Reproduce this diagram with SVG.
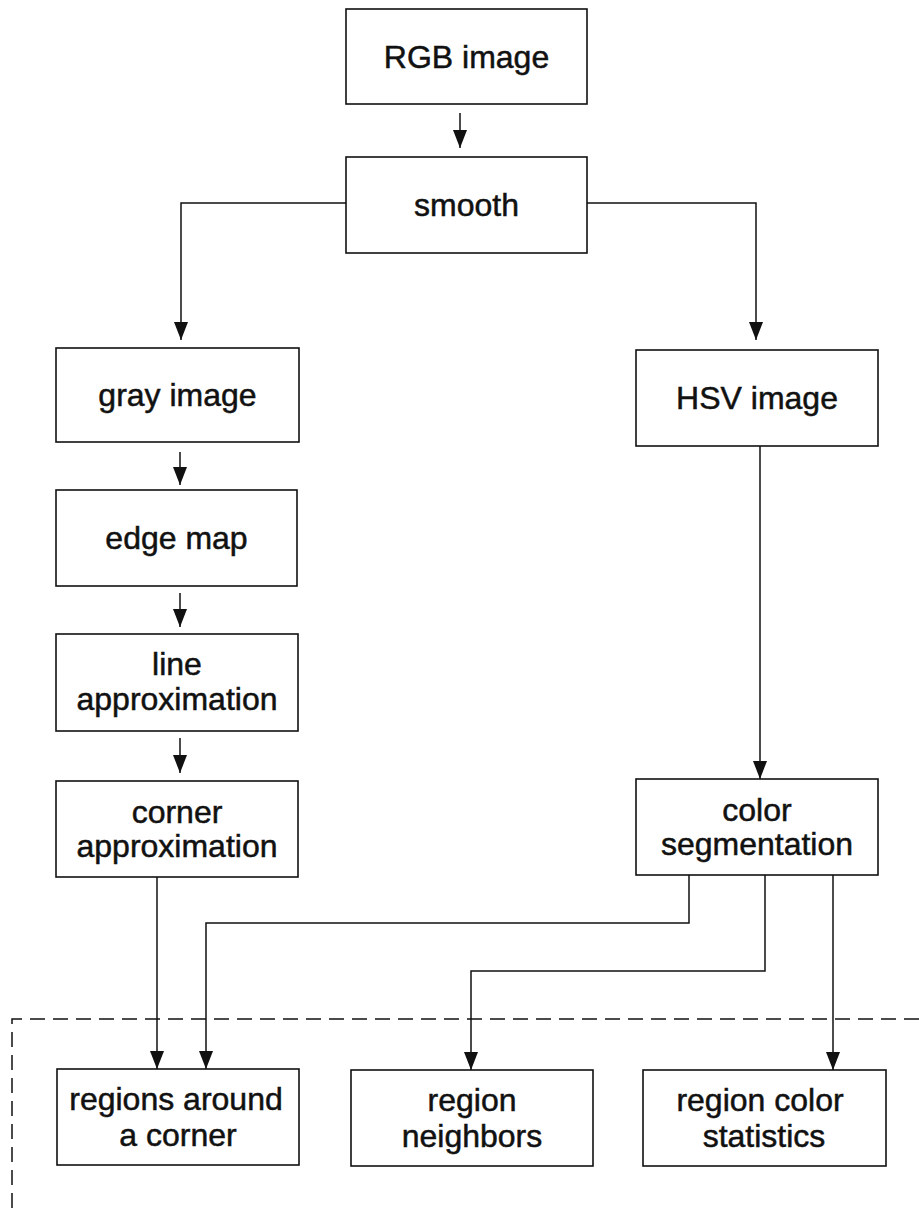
<svg xmlns="http://www.w3.org/2000/svg" width="919" height="1208" viewBox="0 0 919 1208">
<style>
.box{fill:#fff;stroke:#111;stroke-width:1.6}
.lbl{font-family:"Liberation Sans",Arial,sans-serif;font-size:32px;fill:#111;stroke:#111;stroke-width:0.5;text-anchor:middle}
.con{fill:none;stroke:#111;stroke-width:1.5}
.dash{fill:none;stroke:#111;stroke-width:1.5;stroke-dasharray:15 8}
</style>
<defs>
<marker id="ah" markerUnits="userSpaceOnUse" markerWidth="18" markerHeight="14" refX="18" refY="7" orient="auto">
<path d="M0,0 L18,7 L0,14 z" fill="#111"/>
</marker>
</defs>
<rect width="919" height="1208" fill="#fff"/>
<g id="connectors">
<path class="con" d="M460,113 V148" marker-end="url(#ah)"/>
<path class="con" d="M346,203 H181 V340" marker-end="url(#ah)"/>
<path class="con" d="M587,203 H756 V340" marker-end="url(#ah)"/>
<path class="con" d="M180,452 V485" marker-end="url(#ah)"/>
<path class="con" d="M180,593 V627" marker-end="url(#ah)"/>
<path class="con" d="M180,738 V773" marker-end="url(#ah)"/>
<path class="con" d="M760,446 V779" marker-end="url(#ah)"/>
<path class="con" d="M157,877 V1069" marker-end="url(#ah)"/>
<path class="con" d="M689,875 V923 H206 V1069" marker-end="url(#ah)"/>
<path class="con" d="M765,875 V971 H471 V1070" marker-end="url(#ah)"/>
<path class="con" d="M833,875 V1070" marker-end="url(#ah)"/>
<path class="dash" d="M12,1208 V1019 H919"/>
</g>
<g id="rgb"><rect class="box" x="346" y="9" width="241" height="95"/><text class="lbl" x="466.5" y="67.5">RGB image</text></g>
<g id="smooth"><rect class="box" x="346" y="157" width="241" height="96"/><text class="lbl" x="466.5" y="216">smooth</text></g>
<g id="gray"><rect class="box" x="56" y="348" width="243" height="94"/><text class="lbl" x="177.5" y="406">gray image</text></g>
<g id="edge"><rect class="box" x="56" y="490" width="241" height="96"/><text class="lbl" x="176.5" y="549">edge map</text></g>
<g id="line"><rect class="box" x="56" y="634" width="242" height="97"/><text class="lbl" x="177" y="675">line</text><text class="lbl" x="177" y="710">approximation</text></g>
<g id="corner"><rect class="box" x="56" y="781" width="242" height="96"/><text class="lbl" x="177" y="823">corner</text><text class="lbl" x="177" y="857">approximation</text></g>
<g id="hsv"><rect class="box" x="636" y="350" width="242" height="96"/><text class="lbl" x="757" y="409">HSV image</text></g>
<g id="colorseg"><rect class="box" x="636" y="779" width="242" height="96"/><text class="lbl" x="757" y="821">color</text><text class="lbl" x="757" y="855">segmentation</text></g>
<g id="regions-corner"><rect class="box" x="57" y="1069" width="242" height="96"/><text class="lbl" x="176" y="1110">regions around</text><text class="lbl" x="178" y="1146">a corner</text></g>
<g id="region-neighbors"><rect class="box" x="351" y="1070" width="242" height="96"/><text class="lbl" x="472" y="1111">region</text><text class="lbl" x="472" y="1147">neighbors</text></g>
<g id="region-stats"><rect class="box" x="643" y="1070" width="243" height="96"/><text class="lbl" x="760" y="1111">region color</text><text class="lbl" x="764" y="1147">statistics</text></g>
</svg>
